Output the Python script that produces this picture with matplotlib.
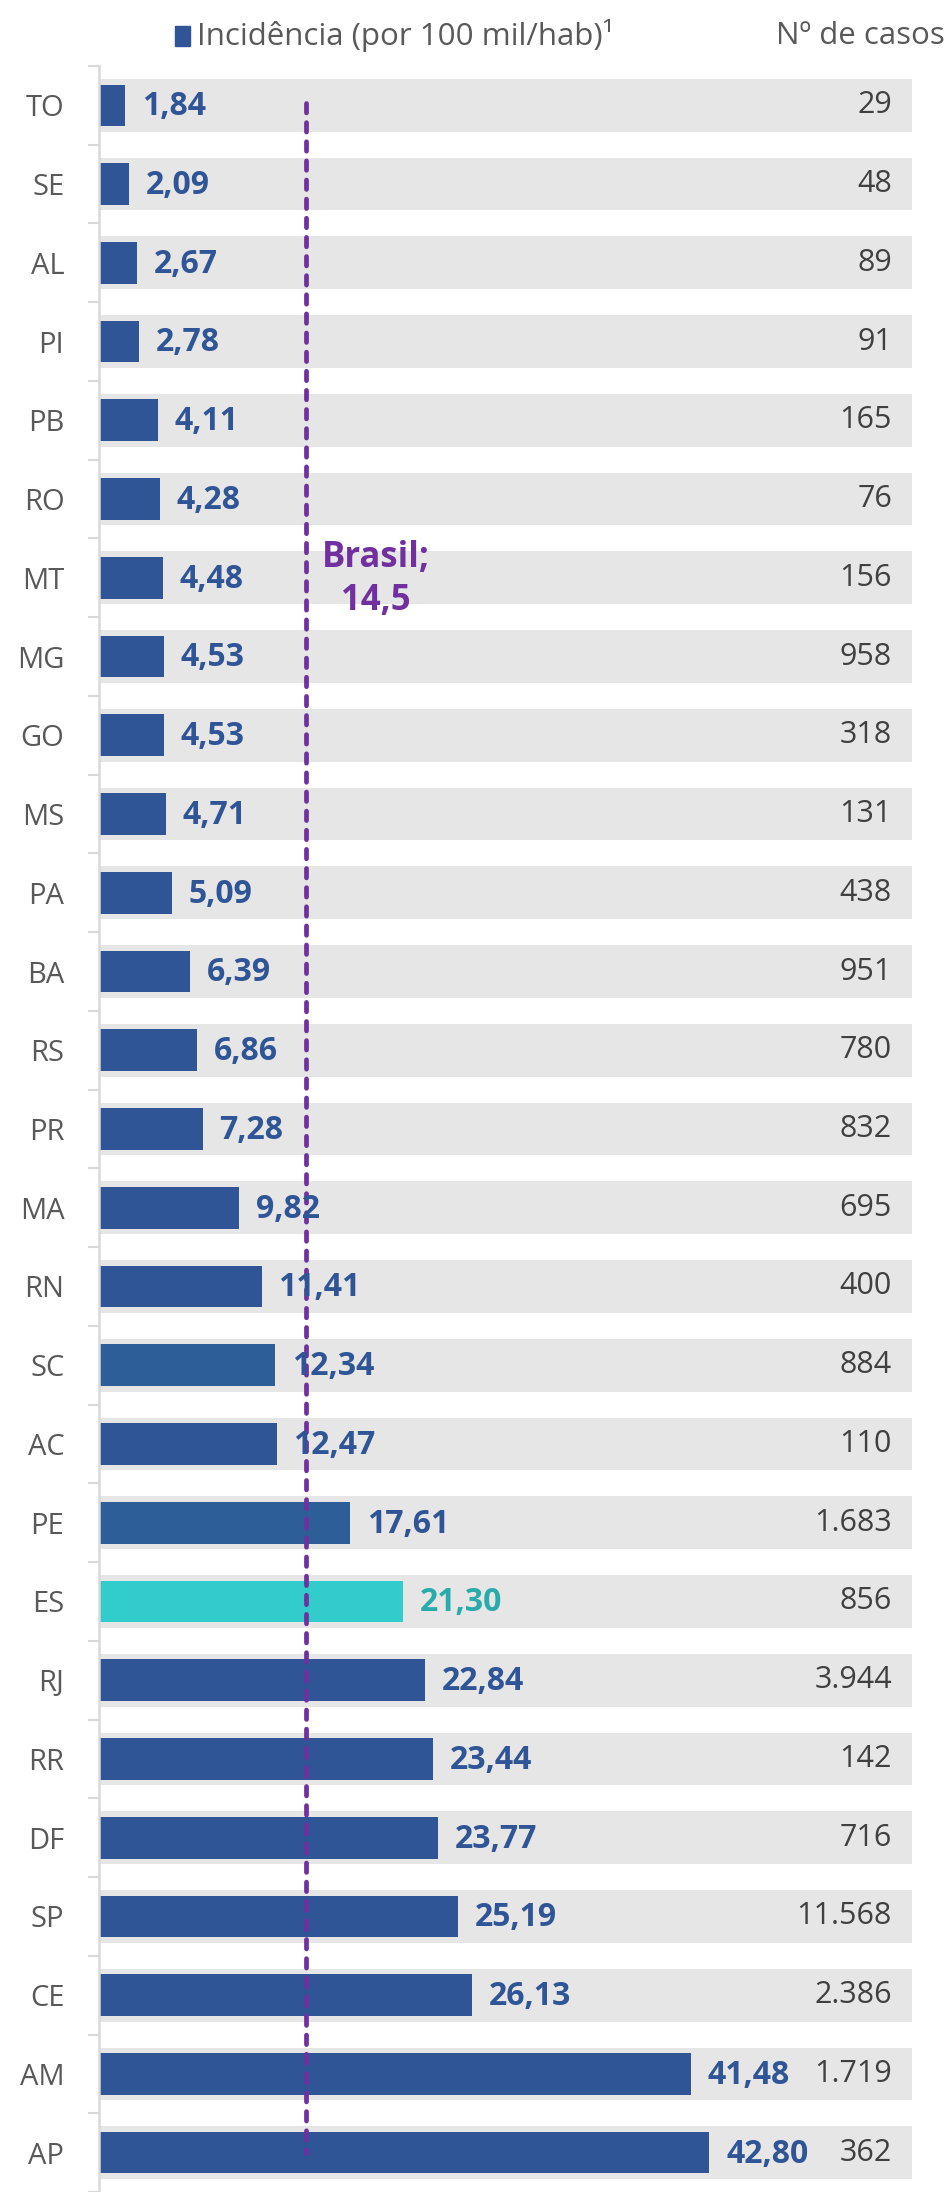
import matplotlib; matplotlib.use("Agg")
import matplotlib.pyplot as plt
from matplotlib.patches import Rectangle

BLUE="#2F5597"; BLUE2="#2E5E97"; TEAL="#33CCCC"; TEAL_TXT="#2AABAB"
BAND="#E7E6E6"; GRID="#D9D9D9"; LBL="#595959"; NUM="#404040"; PURP="#7030A0"
plt.rcParams.update({"font.family":["Open Sans","DejaVu Sans"],"font.size":21})

ufs=["TO","SE","AL","PI","PB","RO","MT","MG","GO","MS","PA","BA","RS","PR","MA",
     "RN","SC","AC","PE","ES","RJ","RR","DF","SP","CE","AM","AP"]
incid=[1.84,2.09,2.67,2.78,4.11,4.28,4.48,4.53,4.53,4.71,5.09,6.39,6.86,7.28,9.82,
       11.41,12.34,12.47,17.61,21.30,22.84,23.44,23.77,25.19,26.13,41.48,42.80]
casos=["29","48","89","91","165","76","156","958","318","131","438","951","780","832","695",
       "400","884","110","1.683","856","3.944","142","716","11.568","2.386","1.719","362"]
brasil=14.5
xmax=57.0

cols=[TEAL if u=="ES" else (BLUE2 if u in ("SC","PE") else BLUE) for u in ufs]
tcols=[TEAL_TXT if u=="ES" else BLUE for u in ufs]

W,H=949,2192
fig=plt.figure(figsize=(W/100,H/100),dpi=100)
ax=fig.add_axes([99/W,0,(912-99)/W,(H-66)/H])
y=list(range(len(ufs)))
ax.barh(y,[xmax]*len(ufs),height=0.67,color=BAND,zorder=1)
ax.barh(y,incid,height=0.53,color=cols,zorder=2)
for i,(v,c,tc) in enumerate(zip(incid,casos,tcols)):
    ax.annotate(f"{v:.2f}".replace(".",","),(v,i),xytext=(12,-1),textcoords="offset points",
                ha="left",va="center",fontweight="bold",fontsize=23,color=tc,zorder=4)
    ax.text(55.6,i,c,ha="right",va="center",color=NUM,fontsize=22,zorder=4)
ax.plot([brasil,brasil],[-0.03,26.0],color=PURP,lw=3.4,dashes=(2.0,2.05),
        dash_capstyle="round",zorder=3)
ax.text(19.4,6.02,"Brasil;\n14,5",ha="center",va="center",multialignment="center",
        color=PURP,fontweight="bold",fontsize=25,linespacing=1.25,zorder=4)
ax.set_xlim(0,xmax); ax.set_ylim(26.38,-0.5)
ax.set_xticks([])
ax.set_yticks(y); ax.set_yticklabels(ufs,color=LBL)
ax.set_yticks([i+0.5 for i in range(-1,len(ufs))],minor=True)
ax.tick_params(axis="y",which="major",length=0,pad=25)
ax.tick_params(axis="y",which="minor",length=8,width=1.5,color=GRID)
for s in ["top","right","bottom"]: ax.spines[s].set_visible(False)
ax.spines["left"].set_color(GRID); ax.spines["left"].set_linewidth(1.8)

# legend
fig.patches.append(Rectangle((175/W,1-46/H),15/W,20/H,transform=fig.transFigure,color=BLUE))
fig.text(197/W,1-36/H,"Incidência (por 100 mil/hab)¹",ha="left",va="center",color=LBL,fontsize=22.5)
fig.text(945/W,1-36/H,"Nº de casos",ha="right",va="center",color=LBL,fontsize=22.5)
fig.savefig("out.png",dpi=100)
